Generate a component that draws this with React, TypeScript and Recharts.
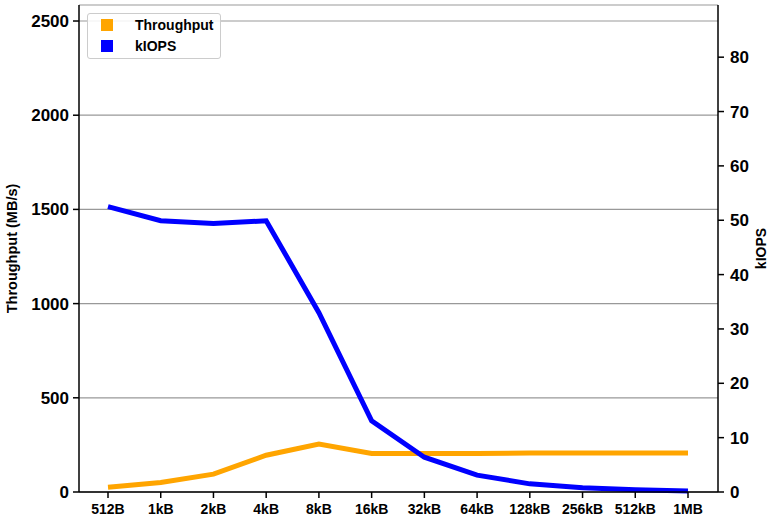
import { LineChart, Line, XAxis, YAxis, CartesianGrid } from "recharts";

const sizes = ["512B", "1kB", "2kB", "4kB", "8kB", "16kB", "32kB", "64kB", "128kB", "256kB", "512kB", "1MB"];
const throughput = [25, 50, 95, 195, 255, 205, 205, 205, 207, 207, 207, 207];
const kiops = [52.5, 49.9, 49.4, 49.9, 33, 13.1, 6.4, 3.1, 1.5, 0.8, 0.4, 0.2];
const leftTicks = [0, 500, 1000, 1500, 2000, 2500];
const rightTicks = [0, 10, 20, 30, 40, 50, 60, 70, 80];

const data = sizes.map((s, i) => ({ size: s, throughput: throughput[i], kiops: kiops[i] }));

const font = "'Liberation Sans', Arial, sans-serif";
const tickStyle = { fill: "#000", fontSize: 17, fontWeight: "bold", fontFamily: font };

export default function App() {
  return (
    <div style={{ position: "absolute", left: 0, top: 0, width: 769, height: 523, background: "#fff" }}>
      <LineChart width={769} height={523} data={data} margin={{ top: 5, right: 0, left: 0, bottom: 0 }}>
        <CartesianGrid vertical={false} yAxisId="left" stroke="#999" strokeWidth={1.2} />
        <XAxis
          dataKey="size"
          interval={0}
          padding={{ left: 29, right: 30 }}
          height={31}
          stroke="#000"
          strokeWidth={1.5}
          tickSize={6}
          tickMargin={6}
          tick={{ fill: "#000", fontSize: 14, fontWeight: "bold", fontFamily: font }}
        />
        <XAxis xAxisId="top" orientation="top" height={0} dataKey="size" tick={false} tickLine={false} stroke="#000" strokeWidth={1.5} />
        <YAxis
          yAxisId="left"
          domain={[0, 2585]}
          ticks={leftTicks}
          width={79}
          stroke="#000"
          strokeWidth={1.5}
          tickSize={6}
          tickMargin={4}
          tick={tickStyle}
          label={{ value: "Throughput (MB/s)", angle: -90, position: "insideLeft", offset: 12, style: { fill: "#000", fontSize: 14.5, fontWeight: "bold", fontFamily: font, textAnchor: "middle" } }}
        />
        <YAxis
          yAxisId="right"
          orientation="right"
          domain={[0, 89.6]}
          ticks={rightTicks}
          width={51}
          stroke="#000"
          strokeWidth={1.5}
          tickSize={6}
          tickMargin={6}
          tick={tickStyle}
          label={{ value: "kIOPS", angle: -90, position: "insideRight", offset: 8, style: { fill: "#000", fontSize: 14, fontWeight: "bold", fontFamily: font, textAnchor: "middle" } }}
        />
        <Line yAxisId="left" dataKey="throughput" stroke="#FFA500" strokeWidth={5} dot={false} isAnimationActive={false} />
        <Line yAxisId="right" dataKey="kiops" stroke="#0000FF" strokeWidth={5} dot={false} isAnimationActive={false} />
      </LineChart>
      <div
        style={{
          position: "absolute",
          left: 87,
          top: 13,
          width: 132,
          height: 44,
          border: "1px solid #ccc",
          borderRadius: 3,
          background: "rgba(255,255,255,0.85)",
          fontFamily: font,
          fontSize: 14,
          fontWeight: "bold",
        }}
      >
        {[
          { name: "Throughput", color: "#FFA500" },
          { name: "kIOPS", color: "#0000FF" },
        ].map((e, i) => (
          <div key={e.name} style={{ position: "absolute", left: 13, top: 2 + i * 21, display: "flex", alignItems: "center", height: 18 }}>
            <span style={{ width: 12, height: 12, background: e.color, display: "inline-block" }} />
            <span style={{ marginLeft: 22 }}>{e.name}</span>
          </div>
        ))}
      </div>
    </div>
  );
}
